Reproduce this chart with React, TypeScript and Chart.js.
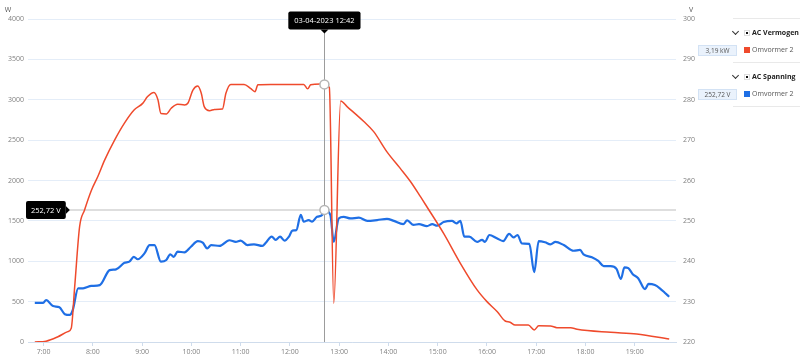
import React, { useEffect, useRef } from 'react';
import { Chart, registerables } from 'chart.js';

Chart.register(...registerables);

const FONT = '"Open Sans", "Noto Sans", sans-serif';

const hourTicks = [7, 8, 9, 10, 11, 12, 13, 14, 15, 16, 17, 18, 19];

const powerTimes = [
  6.82, 7.05, 7.29, 7.49, 7.56, 7.63, 7.73, 7.83, 7.97, 8.1, 8.24, 8.44, 8.64, 8.84, 9.01, 9.11,
  9.24, 9.32, 9.38, 9.49, 9.59, 9.72, 9.86, 9.93, 10.03, 10.13, 10.2, 10.26, 10.37, 10.47, 10.63,
  10.7, 10.8, 11.07, 11.2, 11.29, 11.35, 11.61, 12.28, 12.36, 12.42, 12.62, 12.7, 12.8, 12.89,
  13.03, 13.16, 13.5, 13.7, 13.97, 14.24, 14.45, 14.65, 14.78, 15.12, 15.46, 15.8, 16.0, 16.21,
  16.37, 16.47, 16.57, 16.84, 16.96, 17.05, 17.29, 17.42, 17.7, 17.83, 18.51, 19.04, 19.7,
];
const powerValues = [
  0, 10, 65, 128, 170, 685, 1430, 1635, 1880, 2050, 2255, 2500, 2710, 2875, 2955, 3040,
  3090, 3000, 2830, 2825, 2895, 2945, 2935, 2960, 3120, 3170, 3080, 2915, 2865, 2880, 2885,
  3080, 3190, 3190, 3140, 3100, 3185, 3190, 3190, 3135, 3185, 3195, 3190, 3150, 480,
  2985, 2915, 2730, 2605, 2355, 2150, 1985, 1800, 1675, 1345, 975, 645, 500, 375,
  260, 245, 210, 210, 150, 200, 198, 178, 177, 157, 120, 100, 37,
];

const voltageTimes = [
  6.82, 6.99, 7.05, 7.19, 7.32, 7.43, 7.53, 7.59, 7.7, 7.8, 7.97, 8.14, 8.34, 8.47, 8.64, 8.74,
  8.83, 8.91, 9.05, 9.15, 9.25, 9.38, 9.49, 9.57, 9.64, 9.72, 9.86, 9.99, 10.13, 10.23, 10.32,
  10.4, 10.57, 10.77, 10.9, 11.0, 11.14, 11.27, 11.44, 11.51, 11.63, 11.71, 11.8, 11.89, 11.98,
  12.05, 12.13, 12.22, 12.28, 12.38, 12.45, 12.55, 12.66, 12.7, 12.82, 12.89, 12.99, 13.09,
  13.23, 13.4, 13.57, 13.77, 13.97, 14.11, 14.3, 14.38, 14.51, 14.62, 14.78, 14.89, 14.99,
  15.12, 15.29, 15.38, 15.46, 15.54, 15.64, 15.8, 15.9, 15.96, 16.05, 16.2, 16.33, 16.45, 16.54,
  16.62, 16.71, 16.86, 16.96, 17.05, 17.18, 17.29, 17.39, 17.56, 17.76, 17.89, 17.96, 18.13,
  18.26, 18.37, 18.51, 18.63, 18.72, 18.79, 18.87, 18.96, 19.07, 19.21, 19.28, 19.41, 19.51,
  19.61, 19.7,
];
const voltageValues = [
  229.7, 229.7, 230.4, 228.9, 228.6, 226.9, 226.7, 227.9, 233.3, 233.3, 233.9, 234.1, 237.8, 238.0, 239.6, 239.9,
  241.1, 240.5, 242.0, 244.0, 244.0, 239.9, 240.3, 241.7, 241.1, 242.4, 242.2, 243.6, 245.0, 244.6, 243.2,
  244.0, 243.8, 245.2, 244.8, 245.1, 244.0, 244.2, 243.8, 244.6, 246.1, 245.3, 246.1, 245.1, 246.1,
  247.6, 247.7, 251.5, 249.8, 250.2, 249.8, 251.0, 251.5, 252.72, 251.5, 244.8, 250.6, 251.0,
  250.6, 250.8, 250.0, 250.2, 250.5, 250.0, 249.2, 250.1, 249.0, 249.2, 248.7, 249.2, 248.8,
  249.7, 250.0, 249.4, 250.0, 246.1, 246.1, 244.8, 245.3, 244.8, 246.5, 245.7, 245.0, 246.8, 245.9,
  246.5, 244.4, 244.3, 237.3, 245.0, 244.7, 244.2, 244.8, 244.0, 242.6, 242.8, 241.7, 241.0,
  240.1, 238.8, 238.8, 238.1, 235.6, 238.5, 238.3, 236.8, 235.8, 233.1, 234.4, 234.1, 233.3,
  232.2, 231.2,
];

const cursorTime = 12.7;
const cursorPower = 3190;
const cursorVoltage = 252.72;
const cursorDateLabel = '03-04-2023 12:42';
const cursorVoltageLabel = '252,72 V';
const cursorPowerLabel = '3,19 kW';
const leftAxisTitle = 'W';
const rightAxisTitle = 'V';

const RED = '#ef4a2c';
const BLUE = '#1f6fe5';

function roundRect(ctx: CanvasRenderingContext2D, x: number, y: number, w: number, h: number, r: number) {
  ctx.beginPath();
  ctx.moveTo(x + r, y);
  ctx.lineTo(x + w - r, y);
  ctx.quadraticCurveTo(x + w, y, x + w, y + r);
  ctx.lineTo(x + w, y + h - r);
  ctx.quadraticCurveTo(x + w, y + h, x + w - r, y + h);
  ctx.lineTo(x + r, y + h);
  ctx.quadraticCurveTo(x, y + h, x, y + h - r);
  ctx.lineTo(x, y + r);
  ctx.quadraticCurveTo(x, y, x + r, y);
  ctx.closePath();
}

const overlayPlugin = {
  id: 'overlay',
  beforeDatasetsDraw(chart: any) {
    const { ctx, chartArea, scales } = chart;
    const x = Math.round(scales.x.getPixelForValue(cursorTime)) + 0.5;
    const yv = scales.y1.getPixelForValue(cursorVoltage);
    ctx.save();
    ctx.strokeStyle = '#dedede';
    ctx.lineWidth = 2;
    ctx.beginPath();
    ctx.moveTo(chartArea.left + 38, yv);
    ctx.lineTo(chartArea.right, yv);
    ctx.stroke();
    ctx.strokeStyle = '#9c9c9c';
    ctx.lineWidth = 1;
    ctx.beginPath();
    ctx.moveTo(x, 33);
    ctx.lineTo(x, chartArea.bottom);
    ctx.stroke();
    ctx.restore();
  },
  afterDraw(chart: any) {
    const { ctx, chartArea, scales } = chart;
    const x = scales.x.getPixelForValue(cursorTime);
    const yp = scales.y.getPixelForValue(cursorPower);
    const yv = scales.y1.getPixelForValue(cursorVoltage);
    ctx.save();
    for (const yy of [yp, yv]) {
      ctx.beginPath();
      ctx.arc(x, yy, 4.5, 0, Math.PI * 2);
      ctx.fillStyle = '#ffffff';
      ctx.fill();
      ctx.lineWidth = 1.5;
      ctx.strokeStyle = '#b4b4b4';
      ctx.stroke();
    }
    ctx.font = `7.5px ${FONT}`;
    ctx.textBaseline = 'middle';
    ctx.textAlign = 'center';
    const tw = ctx.measureText(cursorDateLabel).width + 12;
    const bx = x - tw / 2;
    const by = 11.5;
    const bh = 18;
    ctx.fillStyle = '#000000';
    roundRect(ctx, bx, by, tw, bh, 2);
    ctx.fill();
    ctx.beginPath();
    ctx.moveTo(x - 4, by + bh);
    ctx.lineTo(x + 4, by + bh);
    ctx.lineTo(x, by + bh + 4);
    ctx.closePath();
    ctx.fill();
    ctx.fillStyle = '#ffffff';
    ctx.fillText(cursorDateLabel, x, by + bh / 2 + 0.5);
    const lw = ctx.measureText(cursorVoltageLabel).width + 10;
    const lx = chartArea.left - 2;
    const lh = 18;
    const ly = yv - lh / 2;
    ctx.fillStyle = '#000000';
    roundRect(ctx, lx, ly, lw, lh, 2);
    ctx.fill();
    ctx.beginPath();
    ctx.moveTo(lx + lw, yv - 4);
    ctx.lineTo(lx + lw, yv + 4);
    ctx.lineTo(lx + lw + 4, yv);
    ctx.closePath();
    ctx.fill();
    ctx.fillStyle = '#ffffff';
    ctx.fillText(cursorVoltageLabel, lx + lw / 2, yv + 0.5);
    ctx.fillStyle = '#555555';
    ctx.font = `7px ${FONT}`;
    ctx.fillText(leftAxisTitle, 8, 10);
    ctx.fillText(rightAxisTitle, chartArea.right + 15, 10);
    ctx.restore();
  },
};

function LegendGroup({ top, title, value, color }: { top: number; title: string; value: string; color: string }) {
  const txt: React.CSSProperties = { position: 'absolute', fontFamily: FONT, fontSize: 7, lineHeight: '10px', whiteSpace: 'nowrap' };
  return (
    <>
      <div style={{ position: 'absolute', left: 733, top: top + 10, width: 4, height: 4, borderRight: '1.2px solid #333', borderBottom: '1.2px solid #333', transform: 'rotate(45deg)' }} />
      <div style={{ position: 'absolute', left: 744, top: top + 11, width: 6, height: 6, border: '1px solid #ddd', boxSizing: 'border-box', background: '#fff' }}>
        <div style={{ position: 'absolute', left: 1, top: 1, width: 2, height: 2, background: '#111' }} />
      </div>
      <div style={{ ...txt, left: 752, top: top + 9, fontWeight: 700, color: '#222' }}>{title}</div>
      <div style={{ position: 'absolute', left: 698, top: top + 26, width: 39, height: 11, background: '#eaf2fc', border: '1px solid #d3e2f4', boxSizing: 'border-box', fontFamily: FONT, fontSize: 6.5, lineHeight: '9px', color: '#555', textAlign: 'center' }}>{value}</div>
      <div style={{ position: 'absolute', left: 744, top: top + 28, width: 6, height: 6, background: color }} />
      <div style={{ ...txt, left: 752, top: top + 26, color: '#555' }}>Omvormer 2</div>
      <div style={{ position: 'absolute', left: 733, top: top + 43, width: 67, height: 1, background: '#e9e9e9' }} />
    </>
  );
}

export default function App() {
  const canvasRef = useRef<HTMLCanvasElement | null>(null);

  useEffect(() => {
    const canvas = canvasRef.current;
    if (!canvas) return;
    const tickFont = { size: 7, family: FONT };
    const chart = new Chart(canvas, {
      type: 'line',
      data: {
        datasets: [
          {
            label: 'AC Vermogen',
            data: powerTimes.map((t, i) => ({ x: t, y: powerValues[i] })),
            borderColor: RED,
            backgroundColor: RED,
            borderWidth: 1.5,
            pointRadius: 0,
            tension: 0.3,
            cubicInterpolationMode: 'monotone',
            yAxisID: 'y',
          },
          {
            label: 'AC Spanning',
            data: voltageTimes.map((t, i) => ({ x: t, y: voltageValues[i] })),
            borderColor: BLUE,
            backgroundColor: BLUE,
            borderWidth: 2.2,
            pointRadius: 0,
            tension: 0.3,
            cubicInterpolationMode: 'monotone',
            yAxisID: 'y1',
          },
        ],
      },
      options: {
        animation: false,
        responsive: false,
        maintainAspectRatio: false,
        layout: { padding: { left: 0, right: 100, top: 19, bottom: 0 } },
        plugins: { legend: { display: false }, tooltip: { enabled: false } },
        scales: {
          x: {
            type: 'linear',
            min: 6.682,
            max: 19.838,
            afterBuildTicks: (s: any) => {
              s.ticks = hourTicks.map((v) => ({ value: v }));
            },
            afterFit: (s: any) => {
              s.height = 17;
            },
            ticks: {
              callback: (v: any) => `${v}:00`,
              font: tickFont,
              color: '#808080',
              maxRotation: 0,
              autoSkip: false,
              padding: 2,
            },
            grid: { drawOnChartArea: false, color: '#cfdcec', tickLength: 4 },
            border: { color: '#cfdcec' },
          },
          y: {
            position: 'left',
            min: 0,
            max: 4000,
            afterFit: (s: any) => {
              s.width = 28;
            },
            ticks: { stepSize: 500, font: tickFont, color: '#808080', padding: 4, callback: (v: any) => String(v) },
            grid: { color: '#e4edf8', drawTicks: false },
            border: { display: false },
          },
          y1: {
            position: 'right',
            min: 220,
            max: 300,
            afterFit: (s: any) => {
              s.width = 24;
            },
            ticks: { stepSize: 10, font: tickFont, color: '#808080', padding: 7, callback: (v: any) => String(v) },
            grid: { display: false, drawTicks: false },
            border: { display: false },
          },
        },
      },
      plugins: [overlayPlugin],
    } as any);
    return () => chart.destroy();
  }, []);

  return (
    <div style={{ position: 'fixed', left: 0, top: 0, width: 800, height: 359, background: '#fff', overflow: 'hidden' }}>
      <canvas ref={canvasRef} width={800} height={359} style={{ position: 'absolute', left: 0, top: 0, width: 800, height: 359 }} />
      <div style={{ position: 'absolute', left: 733, top: 18, width: 67, height: 1, background: '#e9e9e9' }} />
      <LegendGroup top={19} title="AC Vermogen" value={cursorPowerLabel} color={RED} />
      <LegendGroup top={63} title="AC Spanning" value={cursorVoltageLabel} color={BLUE} />
    </div>
  );
}
